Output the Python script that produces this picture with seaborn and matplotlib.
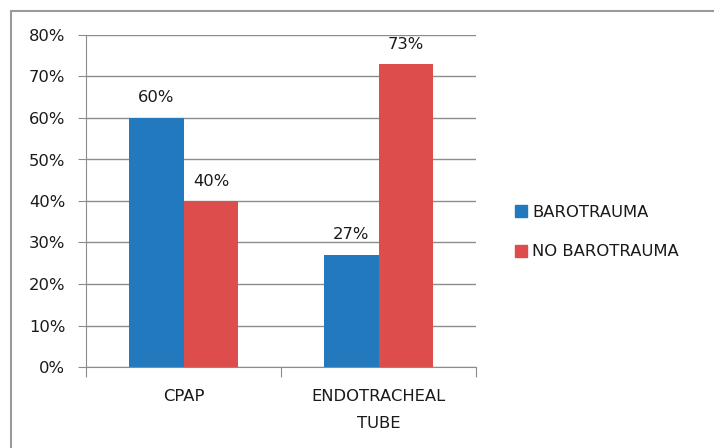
import matplotlib
matplotlib.use("Agg")
import matplotlib.pyplot as plt
import matplotlib.patches as mpatches
import pandas as pd
import seaborn as sns
from matplotlib.ticker import FuncFormatter

# Share of patients with / without barotrauma by ventilation method
categories = ["CPAP", "ENDOTRACHEAL\nTUBE"]
barotrauma = [60, 27]
no_barotrauma = [40, 73]
series_names = ["BAROTRAUMA", "NO BAROTRAUMA"]
y_ticks = [0, 10, 20, 30, 40, 50, 60, 70, 80]

df = pd.DataFrame({
    "method": categories * 2,
    "pct": barotrauma + no_barotrauma,
    "group": [series_names[0]] * len(categories) + [series_names[1]] * len(categories),
})

sns.set_style("white")
plt.rcParams["font.family"] = ["DejaVu Sans"]

FS = 11.8
TXT = "#1a1a1a"

fig = plt.figure(figsize=(7.14, 4.48), dpi=100)
ax = fig.add_axes([86 / 714, 1 - 367 / 448, 390 / 714, 332 / 448])

palette = {series_names[0]: "#2379BD", series_names[1]: "#DD4D4B"}
sns.barplot(data=df, x="method", y="pct", hue="group", palette=palette,
            width=0.564, saturation=1, linewidth=0, ax=ax, legend=False)

for cont in ax.containers:
    ax.bar_label(cont, fmt="%d%%", padding=9, fontsize=FS, color=TXT)

ax.set_ylim(0, 80)
ax.set_xlim(-0.5, 1.5)
ax.set_yticks(y_ticks)
ax.yaxis.set_major_formatter(FuncFormatter(lambda v, _: f"{int(v)}%"))
ax.grid(axis="y", color="#8c8c8c", linewidth=1)
ax.set_axisbelow(True)
ax.set_xlabel("")
ax.set_ylabel("")

for s in ["top", "right"]:
    ax.spines[s].set_visible(False)
ax.spines["left"].set_color("#8c8c8c")
ax.spines["bottom"].set_color("#8c8c8c")

ax.tick_params(axis="y", left=True, length=6, color="#8c8c8c", labelsize=FS,
               labelcolor=TXT, pad=9)
ax.set_xticks([-0.5, 0.5, 1.5], minor=False)
ax.set_xticklabels([])
ax.set_xticks([0, 1], minor=True)
ax.set_xticklabels(categories, minor=True, fontsize=FS, color=TXT,
                   linespacing=2.0)
ax.tick_params(axis="x", which="major", bottom=True, length=7, color="#8c8c8c")
ax.tick_params(axis="x", which="minor", bottom=False, pad=14)

# Legend placed to the right of the plot area
handles = [mpatches.Patch(color=palette[n], label=n) for n in series_names]
fig.legend(handles=handles, loc="center left", bbox_to_anchor=(500 / 714, 1 - 232 / 448),
           frameon=False, fontsize=FS, handlelength=0.75, handleheight=0.75,
           handletextpad=0.3, labelspacing=1.5, labelcolor=TXT)

# Chart frame
frame = mpatches.Rectangle((11 / 714, -0.1), 1.2, 1 - 11 / 448 + 0.1,
                           transform=fig.transFigure, fill=False,
                           edgecolor="#9a9a9a", linewidth=1.5)
fig.patches.append(frame)

fig.savefig("out.png", dpi=100)
